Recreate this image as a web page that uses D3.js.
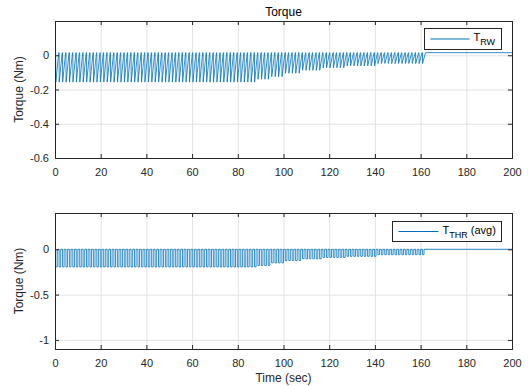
<!DOCTYPE html>
<html>
<head>
<meta charset="utf-8">
<script src="https://cdn.jsdelivr.net/npm/d3@7"></script>
<style>
  body { margin: 0; background: #fff; }
  svg { font-family: "Liberation Sans", Arial, sans-serif; }
  .axis text { fill: #262626; font-size: 11px; }
  .axis path, .axis line { stroke: #262626; }
  .grid line { stroke: #e3e3e3; }
  .grid path { display: none; }
</style>
</head>
<body>
<svg id="chart" width="528" height="386"></svg>
<script>
// Thruster firing times (sec)
const pulseTimes = [
  0.3, 1.8, 3.3, 4.8, 6.3, 7.8, 9.3, 10.8, 12.3, 13.8,
  15.3, 16.8, 18.3, 19.8, 21.3, 22.8, 24.3, 25.8, 27.3, 28.8,
  30.3, 31.8, 33.3, 34.8, 36.3, 37.8, 39.3, 40.8, 42.3, 43.8,
  45.3, 46.8, 48.3, 49.8, 51.3, 52.8, 54.3, 55.8, 57.3, 58.8,
  60.3, 61.8, 63.3, 64.8, 66.3, 67.8, 69.3, 70.8, 72.3, 73.8,
  75.3, 76.8, 78.3, 79.8, 81.3, 82.8, 84.3, 85.8, 87.3, 88.8,
  90.3, 91.8, 93.3, 94.8, 96.3, 97.8, 99.3, 100.8, 102.3, 103.8,
  105.3, 106.8, 108.3, 109.8, 111.3, 112.8, 114.3, 115.8, 117.3, 118.8,
  120.3, 121.8, 123.3, 124.8, 126.3, 127.8, 129.3, 130.8, 132.3, 133.8,
  135.3, 136.8, 138.3, 139.8, 141.3, 142.8, 144.3, 145.8, 147.3, 148.8,
  150.3, 151.8, 153.3, 154.8, 156.3, 157.8, 159.3, 160.8
];

// Depth of pulses per time segment (segment ends at segEnds[i])
const segEnds = [88, 94, 100, 108, 117, 127, 140, 162];
const rwDepth = [-0.157, -0.14, -0.125, -0.105, -0.088, -0.073, -0.062, -0.048];
const thrDepth = [-0.195, -0.18, -0.15, -0.125, -0.105, -0.09, -0.078, -0.06];
const rwRest = 0.015;   // reaction wheel torque between pulses
const thrRest = 0;      // thruster torque between pulses

const xTicks = [0, 20, 40, 60, 80, 100, 120, 140, 160, 180, 200];
const yTicksTop = [0, -0.2, -0.4, -0.6];
const yTicksBot = [0, -0.5, -1];

const tEnd = 200;
const blue = '#0072BD';

function depthAt(t, depths) {
  const i = segEnds.findIndex(e => t < e);
  return depths[i < 0 ? depths.length - 1 : i];
}

// build the two series from the pulses
const rwData = [{ t: 0, v: rwRest }];
const thrData = [{ t: 0, v: thrRest }];
pulseTimes.forEach(t => {
  const dr = depthAt(t, rwDepth);
  rwData.push({ t: t, v: rwRest }, { t: t + 0.05, v: dr }, { t: t + 1.35, v: rwRest });
  const dt = depthAt(t, thrDepth);
  thrData.push({ t: t, v: thrRest }, { t: t, v: dt }, { t: t + 0.7, v: dt }, { t: t + 0.7, v: thrRest });
});
rwData.push({ t: tEnd, v: rwRest });
thrData.push({ t: tEnd, v: thrRest });

const svg = d3.select('#chart');

const left = 55, right = 512;
const xScale = d3.scaleLinear().domain([0, tEnd]).range([left, right]);

function panel(opts) {
  const { top, bottom, yDomain, yTicks, data, id } = opts;
  const yScale = d3.scaleLinear().domain(yDomain).range([bottom, top]);
  const g = svg.append('g');

  svg.append('clipPath').attr('id', id)
    .append('rect')
    .attr('x', left).attr('y', top)
    .attr('width', right - left).attr('height', bottom - top);

  // grid
  g.append('g').attr('class', 'grid')
    .attr('transform', `translate(0,${bottom})`)
    .call(d3.axisBottom(xScale).tickValues(xTicks).tickSize(-(bottom - top)).tickFormat(''));
  g.append('g').attr('class', 'grid')
    .attr('transform', `translate(${left},0)`)
    .call(d3.axisLeft(yScale).tickValues(yTicks).tickSize(-(right - left)).tickFormat(''));

  // data
  const line = d3.line()
    .x(d => xScale(d.t))
    .y(d => yScale(d.v));
  g.append('path')
    .attr('clip-path', `url(#${id})`)
    .attr('d', line(data))
    .attr('fill', 'none')
    .attr('stroke', blue)
    .attr('stroke-width', 0.8);

  // axes, ticks inside
  g.append('g').attr('class', 'axis')
    .attr('transform', `translate(0,${bottom})`)
    .call(d3.axisBottom(xScale).tickValues(xTicks).tickSize(-4).tickPadding(10).tickFormat(d3.format('d')));
  g.append('g').attr('class', 'axis')
    .attr('transform', `translate(0,${top})`)
    .call(d3.axisTop(xScale).tickValues(xTicks).tickSize(-4).tickFormat(''));
  g.append('g').attr('class', 'axis')
    .attr('transform', `translate(${left},0)`)
    .call(d3.axisLeft(yScale).tickValues(yTicks).tickSize(-4).tickPadding(6).tickFormat(d => d === 0 ? '0' : String(d)));
  g.append('g').attr('class', 'axis')
    .attr('transform', `translate(${right},0)`)
    .call(d3.axisRight(yScale).tickValues(yTicks).tickSize(-4).tickFormat(''));
  g.selectAll('.axis path').attr('stroke-width', 1);

  // y label
  g.append('text')
    .attr('transform', `translate(23,${(top + bottom) / 2}) rotate(-90)`)
    .attr('text-anchor', 'middle')
    .attr('font-size', 12)
    .attr('fill', '#262626')
    .text('Torque (Nm)');

  return g;
}

panel({ top: 21, bottom: 158, yDomain: [-0.6, 0.2], yTicks: yTicksTop, data: rwData, id: 'clipTop' });
panel({ top: 213, bottom: 349, yDomain: [-1.1, 0.4], yTicks: yTicksBot, data: thrData, id: 'clipBot' });

// title and x label
svg.append('text')
  .attr('x', (left + right) / 2).attr('y', 16)
  .attr('text-anchor', 'middle')
  .attr('font-size', 12)
  .attr('fill', '#000')
  .text('Torque');
svg.append('text')
  .attr('x', (left + right) / 2).attr('y', 382)
  .attr('text-anchor', 'middle')
  .attr('font-size', 12)
  .attr('fill', '#262626')
  .text('Time (sec)');

// legends
function legend(x, y, w, h, lineLen, main, sub, tail) {
  const lg = svg.append('g').attr('transform', `translate(${x},${y})`);
  lg.append('rect').attr('width', w).attr('height', h)
    .attr('fill', '#fff').attr('stroke', '#262626').attr('stroke-width', 1);
  lg.append('line')
    .attr('x1', 6).attr('x2', 6 + lineLen)
    .attr('y1', h / 2).attr('y2', h / 2)
    .attr('stroke', blue).attr('stroke-width', 1);
  const txt = lg.append('text')
    .attr('x', lineLen + 10).attr('y', h / 2 + 2)
    .attr('font-size', 11).attr('fill', '#000');
  txt.append('tspan').text(main);
  txt.append('tspan').attr('font-size', 9).attr('dy', 4).text(sub);
  if (tail) txt.append('tspan').attr('dy', -4).text(' ' + tail);
}
legend(424.5, 28.5, 77, 21, 39, 'T', 'RW', '');
legend(392.5, 221.5, 109, 20, 40, 'T', 'THR', '(avg)');
</script>
</body>
</html>
